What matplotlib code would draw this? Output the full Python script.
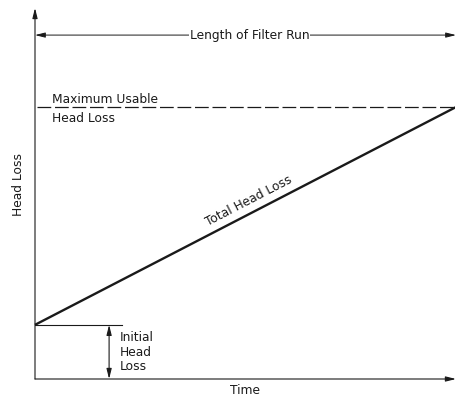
import numpy as np
import matplotlib.pyplot as plt

# head loss through one filter run (arbitrary units)
time = [0.0, 10.0]
total_head_loss = [1.46, 7.33]
initial_head_loss = total_head_loss[0]
max_usable_head_loss = 7.33
run_length_level = 9.27

ink = "#1a1a1a"
fs = 8.8

fig = plt.figure(figsize=(4.56, 4.0), dpi=100)
ax = fig.add_axes([35 / 456, 21 / 400, 421 / 456, 371 / 400])
ax.set_xlim(0, 10)
ax.set_ylim(0, 10)
for s in ax.spines.values():
    s.set_visible(False)
ax.set_xticks([])
ax.set_yticks([])

arrow = dict(arrowstyle="-|>,head_length=0.6,head_width=0.15", color=ink, lw=0.8,
             shrinkA=0, shrinkB=0)

# axes with arrow heads
ax.annotate("", xy=(0, 10), xytext=(0, 0), arrowprops=arrow, annotation_clip=False)
ax.annotate("", xy=(10, 0), xytext=(0, 0), arrowprops=arrow, annotation_clip=False)

# total head loss line
ax.plot(time, total_head_loss, color=ink, lw=1.7, solid_capstyle="butt", clip_on=False)
ax.text(5.08, 4.80, "Total Head Loss", rotation=27.4, ha="center", va="center",
        fontsize=fs, color=ink)

# maximum usable head loss
ax.plot([0.05, 10], [max_usable_head_loss] * 2, color=ink, lw=0.9,
        dashes=(11, 3), clip_on=False)
ax.text(0.4, max_usable_head_loss + 0.02, "Maximum Usable", ha="left", va="bottom",
        fontsize=fs, color=ink)
ax.text(0.4, max_usable_head_loss - 0.12, "Head Loss", ha="left", va="top",
        fontsize=fs, color=ink)

# initial head loss
ax.plot([0, 2.07], [initial_head_loss] * 2, color=ink, lw=0.8)
dbl = dict(arrowstyle="<|-|>,head_length=0.6,head_width=0.15", color=ink, lw=0.8,
           shrinkA=0, shrinkB=0)
ax.annotate("", xy=(1.76, initial_head_loss), xytext=(1.76, 0), arrowprops=dbl)
for i, word in enumerate(["Initial", "Head", "Loss"]):
    ax.text(2.02, 1.11 - i * 0.385, word, ha="left", va="center", fontsize=fs, color=ink)

# length of filter run
ax.annotate("", xy=(0, run_length_level), xytext=(10, run_length_level),
            arrowprops=dict(dbl, lw=0.7), annotation_clip=False)
ax.text(5.1, run_length_level, "Length of Filter Run", ha="center", va="center",
        fontsize=fs, color=ink, bbox=dict(fc="white", ec="none", pad=0.5))

fig.text(245 / 456, 1 - 391 / 400, "Time", ha="center", va="center", fontsize=fs, color=ink)
fig.text(19 / 456, 1 - 184 / 400, "Head Loss", ha="center", va="center", rotation=90,
         fontsize=fs, color=ink)

fig.savefig("out.png", dpi=100)
